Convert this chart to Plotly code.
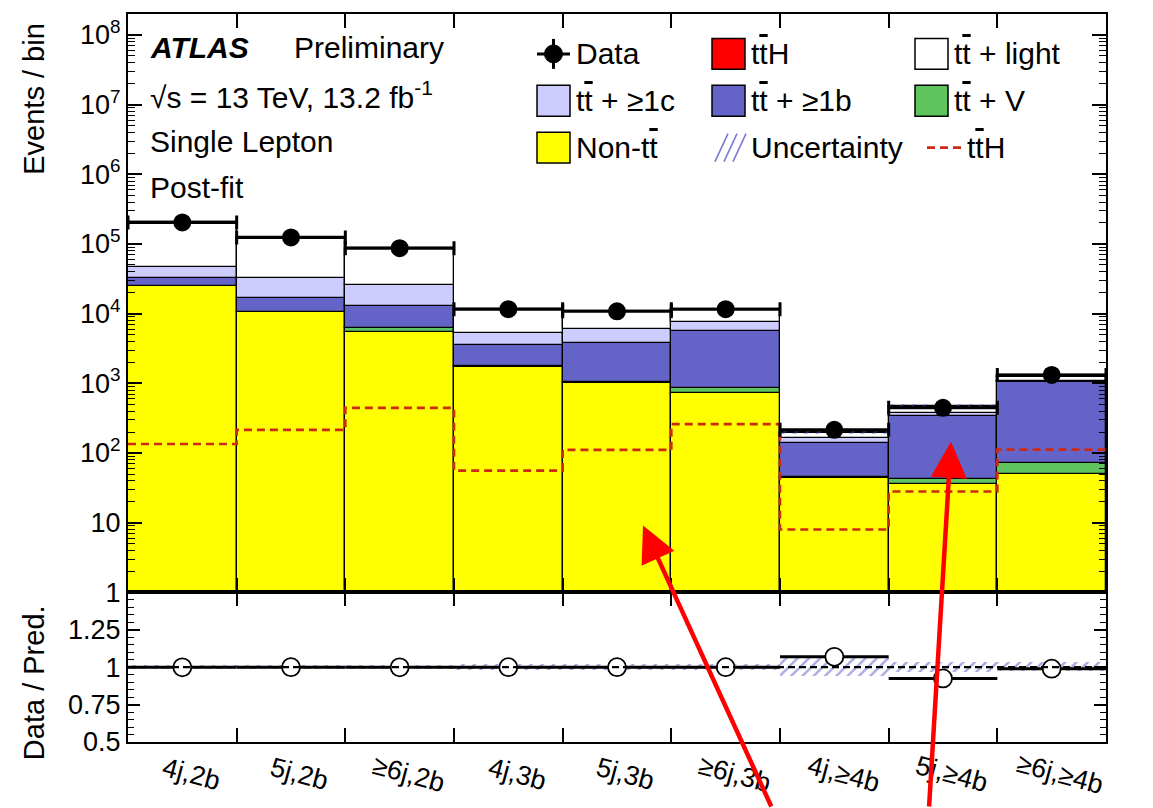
import numpy as np
import plotly.graph_objects as go
from plotly.subplots import make_subplots

# ---------------- data ----------------
categories = ["4j,2b", "5j,2b", "≥6j,2b", "4j,3b", "5j,3b", "≥6j,3b",
              "4j,≥4b", "5j,≥4b", "≥6j,≥4b"]
data = [204000, 124000, 87000, 11600, 10800, 11600, 215, 445, 1320]
non_tt = [25000, 10500, 5400, 1700, 1000, 730, 44, 36, 50]
tt_v = [300, 200, 800, 60, 50, 120, 2, 7, 22]
tt_1b = [6700, 5900, 6700, 1840, 2750, 4750, 94, 297, 958]
tt_1c = [14000, 16400, 12800, 1700, 2200, 1900, 26, 36, 40]
tt_light = [158000, 90800, 60900, 6240, 4690, 3840, 27, 77, 151]
tt_h = [135, 215, 445, 56, 111, 260, 8, 28, 112]
rel_unc = [0.01, 0.01, 0.01, 0.02, 0.02, 0.02, 0.06, 0.035, 0.03]

y_tickvals = [1, 10, 1e2, 1e3, 1e4, 1e5, 1e6, 1e7, 1e8]
y_ticktext = ["1", "10", "10<sup>2</sup>", "10<sup>3</sup>", "10<sup>4</sup>",
              "10<sup>5</sup>", "10<sup>6</sup>", "10<sup>7</sup>", "10<sup>8</sup>"]
r_tickvals = [0.5, 0.75, 1, 1.25]
r_ticktext = ["0.5", "0.75", "1", "1.25"]

# ---------------- derived quantities ----------------
n = len(categories)
xc = np.arange(n)
edges = np.arange(n + 1) - 0.5

TTBAR = "t<span style='text-decoration:overline'>t</span>"
layers = [
    ("Non-" + TTBAR, non_tt, "#ffff00"),
    (TTBAR + " + V", tt_v, "#5ec45e"),
    (TTBAR + " + ≥1b", tt_1b, "#6464c8"),
    (TTBAR + " + ≥1c", tt_1c, "#ccccff"),
    (TTBAR + " + light", tt_light, "#ffffff"),
    (TTBAR + "H", tt_h, "#ff0000"),
]
stack = np.cumsum([np.array(v, float) for _, v, _ in layers], axis=0)
total = stack[-1]
data_a = np.array(data, float)
unc = np.array(rel_unc)
ratio = data_a / total

FONT = "Liberation Sans, Arial, Helvetica, sans-serif"
HATCH = "#5050c4"

fig = make_subplots(rows=2, cols=1, shared_xaxes=True, vertical_spacing=0,
                    row_heights=[580 / 730, 150 / 730])

# stacked background / signal components
for i, (name, vals, col) in enumerate(layers):
    kw = {} if i == 0 else {"base": stack[i - 1]}
    fig.add_trace(go.Bar(x=xc, y=vals, width=1.0, name=name,
                         marker=dict(color=col, line=dict(color="black", width=1.3)),
                         **kw), row=1, col=1)

# uncertainty band on the total prediction
fig.add_trace(go.Bar(x=xc, y=2 * unc * total, base=total * (1 - unc), width=1.0,
                     marker=dict(color="rgba(0,0,0,0)", line=dict(width=0),
                                 pattern=dict(shape="/", fgcolor=HATCH,
                                              bgcolor="rgba(0,0,0,0)", size=8,
                                              solidity=0.3, fillmode="overlay")),
                     name="Uncertainty"), row=1, col=1)

# ttH signal alone, dashed step line
fig.add_trace(go.Scatter(x=edges, y=list(tt_h) + [tt_h[-1]], mode="lines",
                         line=dict(shape="hv", color="#cc2a14", width=2.6,
                                   dash="8px,5px")), row=1, col=1)

# data points
fig.add_trace(go.Scatter(x=xc, y=data, mode="markers",
                         marker=dict(color="black", size=18, symbol="circle"),
                         error_x=dict(type="constant", value=0.5, color="black",
                                      thickness=3, width=7),
                         error_y=dict(type="data", array=np.sqrt(data_a),
                                      color="black", thickness=3, width=0)),
              row=1, col=1)

# ratio panel: uncertainty band
fig.add_trace(go.Bar(x=xc, y=2 * unc, base=1 - unc, width=1.0,
                     marker=dict(color="rgba(0,0,0,0)", line=dict(width=0),
                                 pattern=dict(shape="/", fgcolor=HATCH,
                                              bgcolor="rgba(0,0,0,0)", size=8,
                                              solidity=0.3, fillmode="overlay"))),
              row=2, col=1)

fig.add_shape(type="line", xref="x2 domain", yref="y2", x0=0, x1=1, y0=1, y1=1,
              line=dict(color="black", width=2.2, dash="7px,4px"))

fig.add_trace(go.Scatter(x=xc, y=ratio, mode="markers",
                         marker=dict(color="white", size=18, symbol="circle",
                                     line=dict(color="black", width=1.8)),
                         error_x=dict(type="constant", value=0.5, color="black",
                                      thickness=3, width=0)),
              row=2, col=1)

# ---------------- axes ----------------
axis_common = dict(showline=True, linecolor="black", linewidth=2, mirror="allticks",
                   ticks="inside", tickcolor="black", tickwidth=1.5,
                   tickfont=dict(family=FONT, size=27, color="black"),
                   showgrid=False, zeroline=False)

fig.update_xaxes(range=[-0.5, n - 0.5], tickmode="array", tickvals=edges[1:-1],
                 showticklabels=False, ticklen=14, **axis_common)
fig.update_yaxes(type="log", range=[0, 8.3], tickmode="array", tickvals=y_tickvals,
                 ticktext=y_ticktext, ticklen=14,
                 minor=dict(ticks="inside", ticklen=7, tickcolor="black",
                            tickwidth=1, dtick="D1", showgrid=False),
                 row=1, col=1, **axis_common)
fig.update_yaxes(range=[0.5, 1.5], tickmode="array", tickvals=r_tickvals,
                 ticktext=r_ticktext, ticklen=12,
                 minor=dict(ticks="inside", ticklen=6, tickcolor="black",
                            tickwidth=1, dtick=0.05, tick0=0.5, showgrid=False),
                 row=2, col=1, **axis_common)
fig.update_layout(yaxis=dict(domain=[150 / 730, 1]), yaxis2=dict(domain=[0, 150 / 730]))

# ---------------- text and legend ----------------
L, T, R, B = 128, 12, 1106, 742


def px(x):
    return (x - L) / (R - L)


def py(y):
    return (B - y) / (B - T)


ann = []


def text(x, y, s, size=30, **kw):
    ann.append(dict(x=px(x), y=py(y), xref="paper", yref="paper", text=s,
                    showarrow=False, xanchor="left", yanchor="middle",
                    font=dict(family=FONT, size=size, color="black"), **kw))


text(148, 46, "<b><i>ATLAS</i></b>")
text(292, 46, "Preliminary")
text(148, 93, "√s = 13 TeV, 13.2 fb<sup>-1</sup>")
text(148, 140, "Single Lepton")
text(148, 186, "Post-fit")

ann.append(dict(x=px(34), y=py(97), xref="paper", yref="paper", text="Events / bin",
                textangle=-90, showarrow=False, xanchor="center", yanchor="middle",
                font=dict(family=FONT, size=29, color="black")))
ann.append(dict(x=px(34), y=py(683), xref="paper", yref="paper", text="Data / Pred.",
                textangle=-90, showarrow=False, xanchor="center", yanchor="middle",
                font=dict(family=FONT, size=29, color="black")))

for i, lab in enumerate(categories):
    ann.append(dict(x=i + 0.08, y=py(774), xref="x2", yref="paper", text=lab,
                    textangle=15, showarrow=False, xanchor="center", yanchor="middle",
                    font=dict(family=FONT, size=27, color="black")))

shapes = []
col_x = [537, 712, 915]
row_y = [52, 99, 146]
box_w, box_h = 33, 31


def box(cx, cy, color):
    shapes.append(dict(type="rect", xref="paper", yref="paper",
                       x0=px(cx), x1=px(cx + box_w), y0=py(cy + box_h / 2),
                       y1=py(cy - box_h / 2), fillcolor=color,
                       line=dict(color="black", width=1.5)))


def seg(x0, y0, x1, y1, color="black", width=3, dash=None):
    ln = dict(color=color, width=width)
    if dash:
        ln["dash"] = dash
    shapes.append(dict(type="line", xref="paper", yref="paper", x0=px(x0), y0=py(y0),
                       x1=px(x1), y1=py(y1), line=ln))


# Data symbol
seg(col_x[0], row_y[0], col_x[0] + box_w, row_y[0])
seg(col_x[0] + box_w / 2, row_y[0] - 15, col_x[0] + box_w / 2, row_y[0] + 15)
shapes.append(dict(type="circle", xref="paper", yref="paper",
                   x0=px(col_x[0] + box_w / 2 - 9), x1=px(col_x[0] + box_w / 2 + 9),
                   y0=py(row_y[0] + 9), y1=py(row_y[0] - 9), fillcolor="black",
                   line=dict(color="black", width=1)))
text(col_x[0] + 37, row_y[0], "Data")

legend_boxes = [
    (1, 0, layers[5]), (2, 0, layers[4]),
    (0, 1, layers[3]), (1, 1, layers[2]), (2, 1, layers[1]),
    (0, 2, layers[0]),
]
for c, r, (name, _, color) in legend_boxes:
    box(col_x[c], row_y[r], color)
    text(col_x[c] + 37, row_y[r], name)

# Uncertainty swatch (hatched)
hx, hy = col_x[1], row_y[2]
for k in range(3):
    x0 = hx + 3 + k * 9
    seg(x0, hy + 14, x0 + 13, hy - 14, color="#7a7ad4", width=1.6)
text(hx + 37, hy, "Uncertainty")

# dashed ttH line
seg(col_x[2] + 12, row_y[2], col_x[2] + 46, row_y[2], color="#cc2a14", width=2.8,
    dash="8px,5px")
text(col_x[2] + 50, row_y[2], TTBAR + "H")

# red pointer arrows
for (hx_, hy_), (tx_, ty_) in [((643, 525), (772, 812)), ((951, 441), (929, 812))]:
    ann.append(dict(x=px(hx_), y=py(hy_), xref="paper", yref="paper", text="",
                    showarrow=True, ax=tx_ - hx_, ay=ty_ - hy_, arrowhead=2,
                    arrowsize=1.6, arrowwidth=4.5, arrowcolor="#ff0000", standoff=0))

fig.update_layout(
    width=1153, height=808, autosize=False,
    margin=dict(l=L, r=1153 - R, t=T, b=808 - B),
    barmode="overlay", bargap=0, showlegend=False,
    plot_bgcolor="white", paper_bgcolor="white",
    annotations=ann, shapes=fig.layout.shapes + tuple(shapes),
    font=dict(family=FONT, color="black"),
)

fig.write_html("out.html")
